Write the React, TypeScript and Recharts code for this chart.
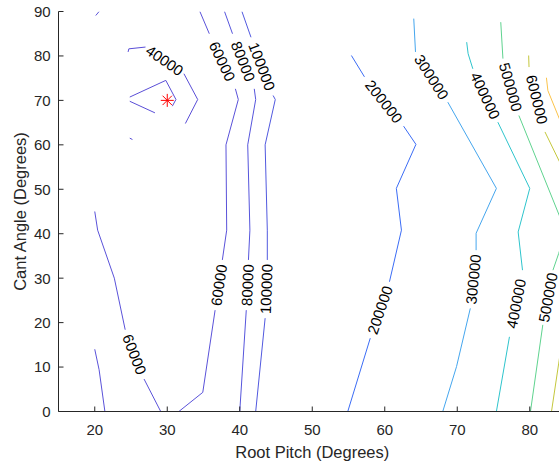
import React from 'react';
import { ComposedChart, Line, Scatter, XAxis, YAxis, Label } from 'recharts';

type Pt = [number, number];

// ---- data ----
const xTicks = [20, 30, 40, 50, 60, 70, 80];
const yTicks = [0, 10, 20, 30, 40, 50, 60, 70, 80, 90];
const xDomain: Pt = [15, 85];
const yDomain: Pt = [0, 90];

const levels = [40000, 60000, 80000, 100000, 200000, 300000, 400000, 500000, 600000, 700000];
const levelColors = ['#5a4ed7', '#5a52d9', '#5655dc', '#5159df', '#3b6cf5', '#45a6ee', '#2ec4cc', '#5fd38f', '#c4c73c', '#fbc34a'];

const contour40000: Pt[][] = [
  [[24.6, 80.9], [24.7, 81.6], [27.0, 82.0]],
  [[32.3, 76.0], [34.2, 70.2], [32.5, 64.8]],
  [[24.83, 70.75], [29.8, 74.5], [31.2, 70.2], [30.7, 68.7]],
  [[24.83, 69.8], [28.3, 67.2]],
  [[24.83, 61.5], [25.2, 61.2]],
];
const contour60000: Pt[][] = [
  [[34.5, 90], [35.8, 85.0]],
  [[39.4, 72.6], [39.8, 70.2], [38.1, 60], [38.2, 40.8], [37.6, 34.1]],
  [[36.6, 22.8], [34.9, 4.3], [31.6, 0]],
  [[20, 45], [20.4, 40.8], [22.7, 30], [24.2, 18.4]],
  [[26.8, 7.3], [29.1, 0]],
  [[20, 14], [20.6, 9.4], [21.4, 0]],
  [[20.14, 89.1], [20.6, 90]],
];
const contour80000: Pt[][] = [
  [[37.9, 90], [39.0, 85.0]],
  [[42.0, 72.6], [42.2, 70.2], [41.1, 60], [41.4, 40.8], [41.2, 34.1]],
  [[40.9, 22.8], [40.0, 0]],
];
const contour100000: Pt[][] = [
  [[40.3, 90], [41.55, 84.2]],
  [[44.6, 71.1], [44.9, 70.2], [43.5, 60], [43.8, 40.8], [43.8, 34.1]],
  [[43.5, 21.0], [42.2, 0]],
];
const contour200000: Pt[][] = [
  [[55.4, 80.1], [57.2, 75.3]],
  [[62.6, 64.2], [64.3, 60.1], [61.6, 50.2], [62.3, 40.8], [60.65, 29.2]],
  [[58.0, 16.5], [54.9, 0]],
];
const contour300000: Pt[][] = [
  [[64.0, 88.4], [64.24, 80.9]],
  [[68.7, 69.6], [75.4, 50.2], [72.6, 40.1], [72.6, 36.3]],
  [[71.8, 23.2], [69.9, 10.1], [68.0, 0]],
];
const contour400000: Pt[][] = [
  [[71.3, 83.1], [71.5, 80.5], [72.15, 77.1]],
  [[75.6, 65.1], [80.0, 50.2], [78.4, 40.4], [79.0, 31.8]],
  [[77.2, 16.8], [75.4, 0]],
];
const contour500000: Pt[][] = [
  [[76.0, 87.6], [76.3, 79.4]],
  [[78.5, 66.6], [84.3, 43.2]],
  [[84.5, 38.3], [84.0, 35.6], [83.2, 31.8]],
  [[81.8, 19.5], [80.1, 0]],
];
const contour600000: Pt[][] = [
  [[79.85, 80.1], [79.9, 77.5]],
  [[82.1, 62.9], [84.4, 55.2]],
  [[84.4, 15.4], [84.0, 10.9], [83.0, 0]],
];
const contour700000: Pt[][] = [
  [[82.3, 75.1], [82.5, 72.2], [84.4, 64.6]],
];

const contours = [
  contour40000, contour60000, contour80000, contour100000, contour200000,
  contour300000, contour400000, contour500000, contour600000, contour700000,
];

// label gaps: contour level, and the two line ends around the label
const contourLabels: { level: number; from: Pt; to: Pt }[] = [
  { level: 40000, from: [27.0, 82.0], to: [32.3, 76.0] },
  { level: 60000, from: [35.8, 85.0], to: [39.4, 72.6] },
  { level: 60000, from: [37.6, 34.1], to: [36.6, 22.8] },
  { level: 60000, from: [24.2, 18.4], to: [26.8, 7.3] },
  { level: 80000, from: [39.0, 85.0], to: [42.0, 72.6] },
  { level: 80000, from: [41.2, 34.1], to: [40.9, 22.8] },
  { level: 100000, from: [41.55, 84.2], to: [44.6, 71.1] },
  { level: 100000, from: [43.8, 34.1], to: [43.5, 21.0] },
  { level: 200000, from: [57.2, 75.3], to: [62.6, 64.2] },
  { level: 200000, from: [60.65, 29.2], to: [58.0, 16.5] },
  { level: 300000, from: [64.24, 80.9], to: [68.7, 69.6] },
  { level: 300000, from: [72.6, 36.3], to: [71.8, 23.2] },
  { level: 400000, from: [72.15, 77.1], to: [75.6, 65.1] },
  { level: 400000, from: [79.0, 31.8], to: [77.2, 16.8] },
  { level: 500000, from: [76.3, 79.4], to: [78.5, 66.6] },
  { level: 500000, from: [83.2, 31.8], to: [81.8, 19.5] },
  { level: 600000, from: [79.9, 77.5], to: [82.1, 62.9] },
];

const optimum: Pt[] = [[30, 70]];

// ---- layout ----
const W = 600;
const H = 468;
const M = { top: 11.5, right: 34, bottom: 16.5, left: 0 };
const Y_AXIS_W = 58.5;
const X_AXIS_H = 40;
const PLOT_W = W - M.left - M.right - Y_AXIS_W;
const PLOT_H = H - M.top - M.bottom - X_AXIS_H;
const KX = PLOT_W / (xDomain[1] - xDomain[0]);
const KY = PLOT_H / (yDomain[1] - yDomain[0]);

const AXIS = '#262626';
const FONT = "'Liberation Sans', Arial, Helvetica, sans-serif";

const labelPoints = contourLabels.map((l) => {
  const dxp = (l.to[0] - l.from[0]) * KX;
  const dyp = -(l.to[1] - l.from[1]) * KY;
  let a = (Math.atan2(dyp, dxp) * 180) / Math.PI;
  if (a > 90) a -= 180;
  if (a < -90) a += 180;
  return {
    x: (l.from[0] + l.to[0]) / 2,
    y: (l.from[1] + l.to[1]) / 2,
    text: String(l.level),
    angle: a,
  };
});

const BottomTick = (p: any) => {
  const { x, y, payload } = p;
  return (
    <g>
      <line x1={x} x2={x} y1={y} y2={y - 5} stroke={AXIS} strokeWidth={1} />
      <text x={x} y={y + 23.5} textAnchor="middle" fill={AXIS} fontSize={15} fontFamily={FONT}>
        {payload.value}
      </text>
    </g>
  );
};
const TopTick = (p: any) => {
  const { x, y } = p;
  return <line x1={x} x2={x} y1={y} y2={y + 5} stroke={AXIS} strokeWidth={1} />;
};
const LeftTick = (p: any) => {
  const { x, y, payload } = p;
  return (
    <g>
      <line x1={x} x2={x + 5} y1={y} y2={y} stroke={AXIS} strokeWidth={1} />
      <text x={x - 7.8} y={y + 5.4} textAnchor="end" fill={AXIS} fontSize={15} fontFamily={FONT}>
        {payload.value}
      </text>
    </g>
  );
};

const ContourText = (p: any) => {
  const { cx, cy, payload } = p;
  return (
    <text
      x={cx}
      y={cy}
      transform={`rotate(${payload.angle} ${cx} ${cy})`}
      textAnchor="middle"
      dominantBaseline="central"
      fill="#000"
      fontSize={15}
      fontFamily={FONT}
    >
      {payload.text}
    </text>
  );
};

const Star = (p: any) => {
  const { cx, cy } = p;
  const r = 6.5;
  const d = r * 0.72;
  return (
    <g stroke="#ff0000" strokeWidth={1}>
      <line x1={cx - r} x2={cx + r} y1={cy} y2={cy} />
      <line x1={cx} x2={cx} y1={cy - r} y2={cy + r} />
      <line x1={cx - d} x2={cx + d} y1={cy - d} y2={cy + d} />
      <line x1={cx - d} x2={cx + d} y1={cy + d} y2={cy - d} />
    </g>
  );
};

export default function App() {
  const lines: React.ReactNode[] = [];
  contours.forEach((segs, li) => {
    segs.forEach((seg, si) => {
      lines.push(
        <Line
          key={`c${li}-${si}`}
          data={seg.map(([x, y]) => ({ x, y }))}
          dataKey="y"
          type="linear"
          stroke={levelColors[li]}
          strokeWidth={1}
          dot={false}
          activeDot={false}
          isAnimationActive={false}
          legendType="none"
        />
      );
    });
  });

  return (
    <div style={{ position: 'absolute', left: 0, top: 0, width: 559, height: 468, overflow: 'hidden', background: '#fff' }}>
      <ComposedChart width={W} height={H} margin={M}>
        <XAxis
          xAxisId={0}
          type="number"
          dataKey="x"
          domain={xDomain}
          allowDataOverflow
          ticks={xTicks}
          interval={0}
          height={X_AXIS_H}
          tickSize={0}
          tickMargin={0}
          tickLine={false}
          tick={<BottomTick />}
          axisLine={{ stroke: AXIS, strokeWidth: 1 }}
        >
          <Label
            content={(props: any) => {
              const vb = props.viewBox || {};
              return (
                <text
                  x={vb.x + vb.width / 2}
                  y={vb.y + 46}
                  textAnchor="middle"
                  fill={AXIS}
                  fontSize={16.5}
                  fontFamily={FONT}
                >
                  Root Pitch (Degrees)
                </text>
              );
            }}
          />
        </XAxis>
        <XAxis
          xAxisId="top"
          orientation="top"
          type="number"
          dataKey="x"
          domain={xDomain}
          allowDataOverflow
          ticks={xTicks}
          interval={0}
          height={0}
          tickSize={0}
          tickMargin={0}
          tickLine={false}
          tick={<TopTick />}
          axisLine={{ stroke: AXIS, strokeWidth: 1 }}
        />
        <YAxis
          type="number"
          dataKey="y"
          domain={yDomain}
          allowDataOverflow
          ticks={yTicks}
          interval={0}
          width={Y_AXIS_W}
          tickSize={0}
          tickMargin={0}
          tickLine={false}
          tick={<LeftTick />}
          axisLine={{ stroke: AXIS, strokeWidth: 1 }}
        >
          <Label
            content={(props: any) => {
              const vb = props.viewBox || {};
              const cy = vb.y + vb.height / 2;
              return (
                <text
                  x={25.5}
                  y={cy}
                  transform={`rotate(-90 25.5 ${cy})`}
                  textAnchor="middle"
                  fill={AXIS}
                  fontSize={16.5}
                  fontFamily={FONT}
                >
                  Cant Angle (Degrees)
                </text>
              );
            }}
          />
        </YAxis>
        {lines}
        <Scatter
          data={labelPoints}
          dataKey="y"
          shape={<ContourText />}
          isAnimationActive={false}
          legendType="none"
        />
        <Scatter
          data={optimum.map(([x, y]) => ({ x, y }))}
          dataKey="y"
          shape={<Star />}
          isAnimationActive={false}
          legendType="none"
        />
      </ComposedChart>
    </div>
  );
}
